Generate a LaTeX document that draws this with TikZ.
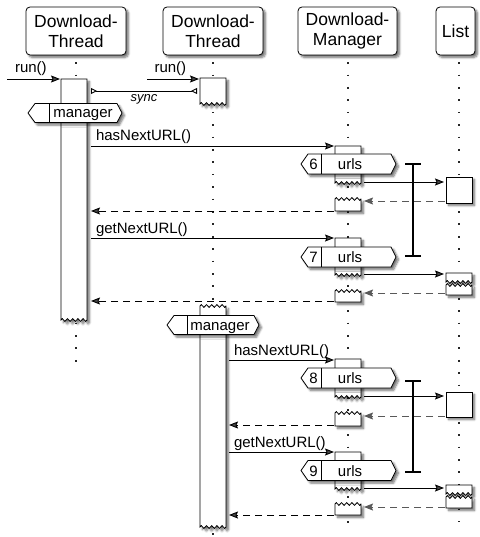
\documentclass[tikz,border=0pt]{standalone}
\usepackage{fontspec}
\setmainfont{Liberation Sans}
\usetikzlibrary{arrows.meta,shadows,shadows.blur,decorations.pathmorphing}

\begin{document}
\begin{tikzpicture}[x=1pt,y=-1pt,
  every node/.style={inner sep=0pt, outer sep=0pt},
  shade/.style={blur shadow={shadow xshift=2.5pt, shadow yshift=-2.5pt, shadow blur steps=6, shadow opacity=55}},
  head/.style={draw, rounded corners=4pt, fill=white, line width=0.8pt, shade, align=center,
               font=\fontsize{17.5}{20.5}\selectfont},
  lifeline/.style={line width=1.7pt, dash pattern=on 1.7pt off 10.7pt, black!85},
  act/.style={draw, fill=white, line width=0.8pt, shade},
  zz/.style={decoration={zigzag, segment length=5.2pt, amplitude=1.4pt}},
  flagbox/.style={draw, fill=white, line width=0.8pt, shade},
  msg/.style={line width=0.9pt, -{Stealth[length=9pt, width=7pt, inset=1.5pt]}},
  ret/.style={msg, dash pattern=on 7pt off 5pt},
  retg/.style={ret, black!65},
  lbl/.style={font=\fontsize{15}{18}\selectfont, anchor=base west},
  ftxt/.style={font=\fontsize{15}{18}\selectfont, anchor=base},
  spanbar/.style={line width=2pt, {Bar[width=16pt]}-{Bar[width=16pt]}},
]
\useasboundingbox (0,0) rectangle (479,537);

% ---- lifelines
\draw[lifeline] (76,62.2) -- (76,368);
\draw[lifeline] (213,62.2) -- (213,537);
\draw[lifeline] (348,62.2) -- (348,533);
\draw[lifeline] (459,62.2) -- (459,522);

% ---- participants
\node[head, minimum width=100pt, minimum height=48pt] (thrA) at (76,31) {Download-\\Thread};
\node[head, minimum width=100pt, minimum height=48pt] (thrB) at (213,31) {Download-\\Thread};
\node[head, minimum width=99pt, minimum height=48pt] (mgr) at (347.5,31) {Download-\\Manager};
\node[head, minimum width=39pt, minimum height=48pt] (lst) at (455.5,31) {List};

% ---- activation bars of the threads
\path[act] (61,79) -- (87,79) -- (87,320) decorate[zz]{-- (61,320)} -- cycle;
\path[act] (200,78) -- (226,78) -- (226,104) decorate[zz]{-- (200,104)} -- cycle;
\path[act] (200,306) decorate[zz]{-- (226,306)} -- (226,527) decorate[zz]{-- (200,527)} -- cycle;

% ---- run() calls and sync
\coordinate (runAs) at (7,79);   \coordinate (runAe) at (60,79);
\coordinate (runBs) at (147,79); \coordinate (runBe) at (199,79);
\draw[msg] (runAs) -- node[ftxt, pos=0.45, yshift=6pt] (runAl) {run()} (runAe);
\draw[msg] (runBs) -- node[ftxt, pos=0.45, yshift=6pt] (runBl) {run()} (runBe);
\coordinate (syncA) at (91,91); \coordinate (syncB) at (197,91);
\draw[line width=0.9pt, {Triangle[open, reversed, length=6pt, width=6pt]}-{Triangle[open, reversed, length=6pt, width=6pt]}]
  (syncA) -- node[pos=0.5, anchor=base, yshift=-11pt, font=\fontsize{13}{15}\selectfont\itshape] (syncl) {sync} (syncB);

% ---- manager flags
\path[flagbox] (35,103.5) -- (117,103.5) -- (122,113) -- (117,122.5) -- (35,122.5) -- (28,113) -- cycle;
\draw[line width=0.8pt] (49,103.5) -- (49,122.5);
\node[ftxt] (mgA) at (83,118) {manager};

\path[flagbox] (174,315.5) -- (254,315.5) -- (259,325) -- (254,334.5) -- (174,334.5) -- (167,325) -- cycle;
\draw[line width=0.8pt] (187,315.5) -- (187,334.5);
\node[ftxt] (mgB) at (220,330) {manager};

% ---- manager activations
\path[act] (335,146) -- (361,146) -- (361,183) decorate[zz]{-- (335,183)} -- cycle;
\path[act] (335,238) -- (361,238) -- (361,275) decorate[zz]{-- (335,275)} -- cycle;
\path[act] (335,359) -- (361,359) -- (361,397) decorate[zz]{-- (335,397)} -- cycle;
\path[act] (335,452) -- (361,452) -- (361,489) decorate[zz]{-- (335,489)} -- cycle;
% return stubs
\path[act] (335,199) decorate[zz]{-- (361,199)} -- (361,211) -- (335,211) -- cycle;
\path[act] (335,291) decorate[zz]{-- (361,291)} -- (361,302) -- (335,302) -- cycle;
\path[act] (335,413) decorate[zz]{-- (361,413)} -- (361,426) -- (335,426) -- cycle;
\path[act] (335,504) decorate[zz]{-- (361,504)} -- (361,515) -- (335,515) -- cycle;

% ---- urls flags
\foreach \cy/\n/\fn in {164/6/fsix, 257/7/fseven, 378/8/feight, 470.5/9/fnine}{
  \path[flagbox] (308,\cy-10) -- (391,\cy-10) -- (396,\cy) -- (391,\cy+10) -- (308,\cy+10) -- (301,\cy) -- cycle;
  \draw[line width=0.8pt] (321,\cy-10) -- (321,\cy+10);
  \node[ftxt] (\fn n) at (313.5,\cy+5.5) {\n};
  \node[ftxt] (\fn u) at (350,\cy+5.5) {urls};
}

% ---- List activations
\path[act] (446,177) rectangle (472,203);
\path[act] (446,273) -- (472,273) -- (472,282) decorate[zz]{-- (446,282)} -- cycle;
\path[act] (446,285) decorate[zz]{-- (472,285)} -- (472,295) -- (446,295) -- cycle;
\path[act] (446,392) rectangle (472,417);
\path[act] (446,485) -- (472,485) -- (472,494) decorate[zz]{-- (446,494)} -- cycle;
\path[act] (446,497) decorate[zz]{-- (472,497)} -- (472,508) -- (446,508) -- cycle;

% ---- first thread's calls
\coordinate (a1) at (91,146);  \coordinate (b1) at (334,146);
\coordinate (c1) at (364,182); \coordinate (d1) at (444,182);
\coordinate (e1) at (445,201); \coordinate (f1) at (364,201);
\coordinate (g1) at (334,211); \coordinate (h1) at (91,211);
\draw[msg] (a1) -- (b1) node[lbl, at start, xshift=5pt, yshift=5pt] (hn1) {hasNextURL()};
\draw[msg] (c1) -- (d1);
\draw[retg] (e1) -- (f1);
\draw[ret] (g1) -- (h1);

\coordinate (a2) at (91,238);  \coordinate (b2) at (334,238);
\coordinate (c2) at (364,274); \coordinate (d2) at (444,274);
\coordinate (e2) at (445,293); \coordinate (f2) at (364,293);
\coordinate (g2) at (334,301); \coordinate (h2) at (91,301);
\draw[msg] (a2) -- (b2) node[lbl, at start, xshift=5pt, yshift=5pt] (gn1) {getNextURL()};
\draw[msg] (c2) -- (d2);
\draw[retg] (e2) -- (f2);
\draw[ret] (g2) -- (h2);

% ---- second thread's calls
\coordinate (a3) at (229,360); \coordinate (b3) at (334,360);
\coordinate (c3) at (364,396); \coordinate (d3) at (444,396);
\coordinate (e3) at (445,416); \coordinate (f3) at (364,416);
\coordinate (g3) at (334,425); \coordinate (h3) at (229,425);
\draw[msg] (a3) -- (b3) node[lbl, at start, xshift=5pt, yshift=5pt] (hn2) {hasNextURL()};
\draw[msg] (c3) -- (d3);
\draw[retg] (e3) -- (f3);
\draw[ret] (g3) -- (h3);

\coordinate (a4) at (229,452); \coordinate (b4) at (334,452);
\coordinate (c4) at (364,488); \coordinate (d4) at (444,488);
\coordinate (e4) at (445,507); \coordinate (f4) at (364,507);
\coordinate (g4) at (334,515); \coordinate (h4) at (229,515);
\draw[msg] (a4) -- (b4) node[lbl, at start, xshift=5pt, yshift=5pt] (gn2) {getNextURL()};
\draw[msg] (c4) -- (d4);
\draw[retg] (e4) -- (f4);
\draw[ret] (g4) -- (h4);

% ---- critical-section spans
\coordinate (s1a) at (413,163); \coordinate (s1b) at (413,257);
\coordinate (s2a) at (413,380); \coordinate (s2b) at (413,473);
\draw[spanbar] (s1a) -- (s1b);
\draw[spanbar] (s2a) -- (s2b);
\end{tikzpicture}
\end{document}
